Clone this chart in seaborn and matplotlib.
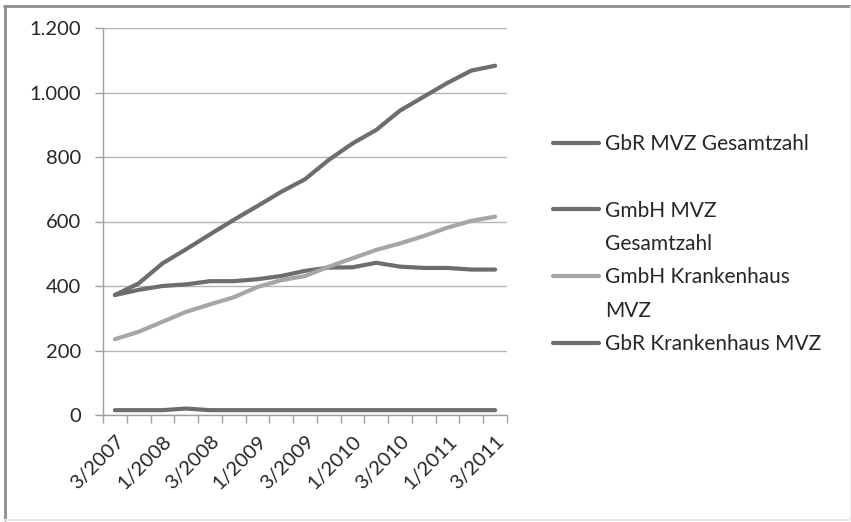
import matplotlib
matplotlib.use("Agg")
import matplotlib.pyplot as plt
from matplotlib.lines import Line2D
from matplotlib.ticker import FuncFormatter, FixedLocator
import seaborn as sns
import pandas as pd

# Quarterly counts of MVZ by legal form
quarters = ["3/2007", "4/2007", "1/2008", "2/2008", "3/2008", "4/2008",
            "1/2009", "2/2009", "3/2009", "4/2009", "1/2010", "2/2010",
            "3/2010", "4/2010", "1/2011", "2/2011", "3/2011"]
gbr_mvz_total = [372, 388, 400, 405, 415, 415, 421, 431, 447, 457, 458,
                 472, 460, 456, 456, 451, 451]
gmbh_mvz_total = [372, 408, 470, 514, 560, 605, 648, 692, 731, 791, 842,
                  884, 944, 987, 1030, 1068, 1083]
gmbh_hospital_mvz = [235, 258, 289, 320, 343, 365, 397, 418, 431, 460, 486,
                     512, 532, 555, 581, 602, 615]
gbr_hospital_mvz = [15, 15, 15, 20, 15, 15, 15, 15, 15, 15, 15, 15, 15, 15,
                    15, 15, 15]

series_names = ["GbR MVZ Gesamtzahl", "GmbH MVZ Gesamtzahl",
                "GmbH Krankenhaus MVZ", "GbR Krankenhaus MVZ"]
series_values = [gbr_mvz_total, gmbh_mvz_total, gmbh_hospital_mvz,
                 gbr_hospital_mvz]
y_ticks = [0, 200, 400, 600, 800, 1000, 1200]

rows = []
for name, vals in zip(series_names, series_values):
    for i, v in enumerate(vals):
        rows.append({"idx": i, "quarter": quarters[i], "value": v, "series": name})
df = pd.DataFrame(rows)

dark = "#6d6d6f"
light = "#a6a6a6"
palette = {series_names[0]: dark, series_names[1]: dark,
           series_names[2]: light, series_names[3]: dark}

sns.set_style("white")
plt.rcParams["font.family"] = ["Lato", "DejaVu Sans"]
text_color = "#262626"
fs = 14.5

fig = plt.figure(figsize=(8.51, 5.22), dpi=100)
ax = fig.add_axes([103 / 851, 1 - 415 / 522, (507 - 103) / 851, (415 - 28) / 522])

sns.lineplot(data=df, x="idx", y="value", hue="series", palette=palette,
             hue_order=series_names, linewidth=3.0, legend=False, ax=ax,
             solid_capstyle="round")

ax.set_xlim(-0.5, len(quarters) - 0.5)
ax.set_ylim(0, 1200)
ax.set_xlabel("")
ax.set_ylabel("")

# y axis: German thousands separator
ax.yaxis.set_major_locator(FixedLocator(y_ticks))
ax.yaxis.set_major_formatter(FuncFormatter(lambda v, p: f"{int(v):,}".replace(",", ".")))
ax.tick_params(axis="y", which="major", length=6, width=1, color="#a0a0a0",
               labelsize=fs, labelcolor=text_color, pad=10, left=True)
ax.grid(axis="y", color="#b3b3b3", linewidth=1.0)
ax.set_axisbelow(True)

# x axis: tick marks at category borders, rotated labels on every other
# category (label anchor nudged right so the text ends over the category)
ax.set_xticks([i - 0.5 for i in range(len(quarters) + 1)])
ax.set_xticklabels([])
ax.tick_params(axis="x", which="major", length=6, width=1, color="#a0a0a0",
               bottom=True)
label_idx = list(range(0, len(quarters), 2))
ax.set_xticks([i + 0.27 for i in label_idx], minor=True)
ax.set_xticklabels([quarters[i] for i in label_idx], minor=True, rotation=45,
                   ha="right", va="center", rotation_mode="anchor",
                   fontsize=fs, color=text_color)
ax.tick_params(axis="x", which="minor", length=0, pad=17)

for side in ("top", "right"):
    ax.spines[side].set_visible(False)
for side in ("left", "bottom"):
    ax.spines[side].set_color("#a0a0a0")
    ax.spines[side].set_linewidth(1.0)

# Legend with first-line-aligned handles for wrapped labels
blank = Line2D([], [], color="none")
handles = [Line2D([], [], color=dark, lw=3.0, solid_capstyle="round"), blank,
           Line2D([], [], color=dark, lw=3.0, solid_capstyle="round"), blank,
           Line2D([], [], color=light, lw=3.0, solid_capstyle="round"), blank,
           Line2D([], [], color=dark, lw=3.0, solid_capstyle="round")]
labels = ["GbR MVZ Gesamtzahl", " ", "GmbH MVZ", "Gesamtzahl",
          "GmbH Krankenhaus", "MVZ", "GbR Krankenhaus MVZ"]
leg = fig.legend(handles, labels, loc="upper left",
                 bbox_to_anchor=(553 / 851, 1 - 134 / 522),
                 frameon=False, fontsize=15, handlelength=2.2,
                 handletextpad=0.3, labelspacing=0.64, borderpad=0,
                 borderaxespad=0)
for t in leg.get_texts():
    t.set_color(text_color)

# Chart frame
fig.add_artist(Line2D([4 / 851, 850 / 851], [1 - 6 / 522, 1 - 6 / 522],
                      transform=fig.transFigure, color="#8c8c8c", lw=2.0))
fig.add_artist(Line2D([5 / 851, 5 / 851], [1 - 6 / 522, 1 - 520 / 522],
                      transform=fig.transFigure, color="#8c8c8c", lw=2.0))
fig.add_artist(Line2D([4 / 851, 850 / 851], [1 - 520 / 522, 1 - 520 / 522],
                      transform=fig.transFigure, color="#e8e8e8", lw=1.5))
fig.add_artist(Line2D([849.5 / 851, 849.5 / 851], [1 - 6 / 522, 1 - 520 / 522],
                      transform=fig.transFigure, color="#f0f0f0", lw=1.0))

fig.savefig("out.png", dpi=100, facecolor="white")
